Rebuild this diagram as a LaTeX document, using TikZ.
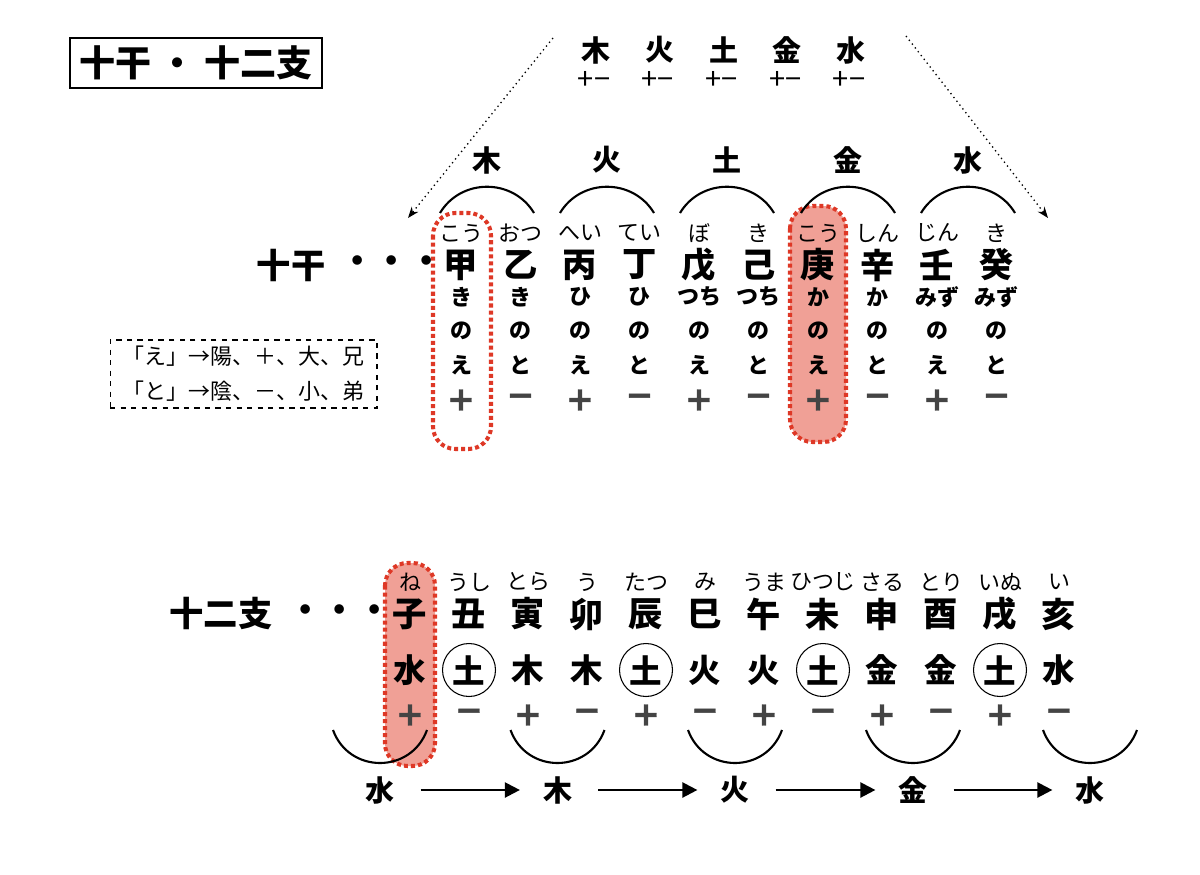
\documentclass[tikz,border=0pt]{standalone}
\usepackage{fontspec}
\setmainfont{Noto Sans CJK JP}
\newfontfamily\signfont{DejaVu Sans Bold}[FakeBold=1.2]
\usetikzlibrary{arrows.meta}
\definecolor{hlred}{RGB}{222,56,38}
\definecolor{hlfill}{RGB}{240,160,150}
\definecolor{signgray}{RGB}{68,68,68}

\begin{document}
\begin{tikzpicture}[x=0.02cm,y=-0.02cm,>=Stealth,
    kanji/.style={font=\fontsize{19.5pt}{19.5pt}\selectfont\bfseries,inner sep=1pt},
    furi/.style={font=\fontsize{12.5pt}{12.5pt}\selectfont,inner sep=1pt},
    yomi/.style={font=\fontsize{12.5pt}{12.5pt}\selectfont\bfseries,inner sep=1pt},
    sign/.style={font=\signfont\fontsize{19pt}{19pt}\selectfont,text=signgray,inner sep=1pt},
    elem/.style={font=\fontsize{16.5pt}{16.5pt}\selectfont\bfseries,inner sep=1pt},
    elemc/.style={font=\fontsize{18.5pt}{18.5pt}\selectfont\bfseries,circle,inner sep=1pt,minimum size=1.06cm,line width=0.6pt},
    hlbox/.style={draw=hlred,line width=2.3pt,dash pattern=on 2.3pt off 1.7pt,rounded corners=0.45cm},
    arc/.style={line width=1.2pt},
    flow/.style={-{Triangle[length=8.5pt,width=8.5pt]},line width=1.3pt,shorten <=0.48cm,shorten >=0.42cm},
    dotarrow/.style={->,dotted,line width=0.75pt}]
  \useasboundingbox (0,0) rectangle (1200,875);

  % highlighted columns
  \draw[hlbox] (433,213) rectangle (491,449);
  \draw[hlbox,fill=hlfill] (790,206) rectangle (846,442);
  \draw[hlbox,fill=hlfill] (385,563) rectangle (435,766);

  % title and legend
  \node[draw,line width=0.85pt,minimum width=5.04cm,minimum height=1cm,font=\fontsize{20.5pt}{20.5pt}\selectfont\bfseries] (title) at (196,63) {十干 ・ 十二支};
  \node[draw,dashed,line width=0.6pt,minimum width=5.34cm,minimum height=1.36cm,align=center,font=\fontsize{12.5pt}{20pt}\selectfont] (legend) at (243.5,374) {「え」→陽、＋、大、兄\\「と」→陰、－、小、弟};

  % five elements on top
  \foreach \g [count=\i from 0] in {木,火,土,金,水} {
    \node[elem] (t\i) at ({596+63.75*\i},50) {\g};
    \node[font=\fontsize{16.5pt}{16.5pt}\selectfont,inner sep=0pt] (tp\i) at ({594+63.75*\i},80) {+−};
  }
  \coordinate (tl) at (553,38);
  \coordinate (tr) at (906,36);
  \coordinate (sl) at (408,218);
  \coordinate (sr) at (1048,218);
  \draw[dotarrow] (tl) -- (sl);
  \draw[dotarrow] (tr) -- (sr);

  % ten stems
  \foreach \g/\x [count=\i from 0] in {木/487,火/607,土/727,金/848,水/968} {
    \node[elem] (m\i) at (\x,160) {\g};
    \draw[arc] ({\x-47},213) .. controls ({\x-26},178) and ({\x+26},178) .. ({\x+47},213);
  }
  \node[kanji] (jikkan) at (291,265) {十干};
  \node[kanji] (sdots) at (392,265) {・・・};
  \foreach \k/\f/\r/\e/\s [count=\i from 0] in {甲/こう/き/え/+,乙/おつ/き/と/−,丙/へい/ひ/え/+,丁/てい/ひ/と/−,戊/ぼ/つち/え/+,己/き/つち/と/−,庚/こう/か/え/+,辛/しん/か/と/−,壬/じん/みず/え/+,癸/き/みず/と/−} {
    \node[furi] (sf\i) at ({461+59.5*\i},233) {\f};
    \node[kanji] (sk\i) at ({461+59.5*\i},265) {\k};
    \node[yomi] (sr\i) at ({461+59.5*\i},297) {\r};
    \node[yomi] (sn\i) at ({461+59.5*\i},331) {の};
    \node[yomi] (se\i) at ({461+59.5*\i},365) {\e};
    \node[sign] (ss\i) at ({461+59.5*\i},400) {\s};
  }

  % twelve branches
  \node[kanji] (juunishi) at (221,614) {十二支};
  \node[kanji] (bdots) at (340,614) {・・・};
  \foreach \k/\f/\g/\c/\s [count=\j from 0] in {子/ね/水/none/+,丑/うし/土/black/−,寅/とら/木/none/+,卯/う/木/none/−,辰/たつ/土/black/+,巳/み/火/none/−,午/うま/火/none/+,未/ひつじ/土/black/−,申/さる/金/none/+,酉/とり/金/none/−,戌/いぬ/土/black/+,亥/い/水/none/−} {
    \node[furi] (bf\j) at ({410+59*\j},582) {\f};
    \node[kanji] (bk\j) at ({410+59*\j},614) {\k};
    \node[elemc,draw=\c] (be\j) at ({410+59*\j},670) {\g};
    \node[sign] (bs\j) at ({410+59*\j},715) {\s};
  }
  \foreach \g/\x [count=\i from 0] in {水/380,木/557.5,火/735,金/913,水/1090} {
    \draw[arc] ({\x-47},730) .. controls ({\x-31},774) and ({\x+31},774) .. ({\x+47},730);
    \node[elem] (g\i) at (\x,790) {\g};
  }
  \draw[flow] (g0) -- (g1);
  \draw[flow] (g1) -- (g2);
  \draw[flow] (g2) -- (g3);
  \draw[flow] (g3) -- (g4);
\end{tikzpicture}
\end{document}
